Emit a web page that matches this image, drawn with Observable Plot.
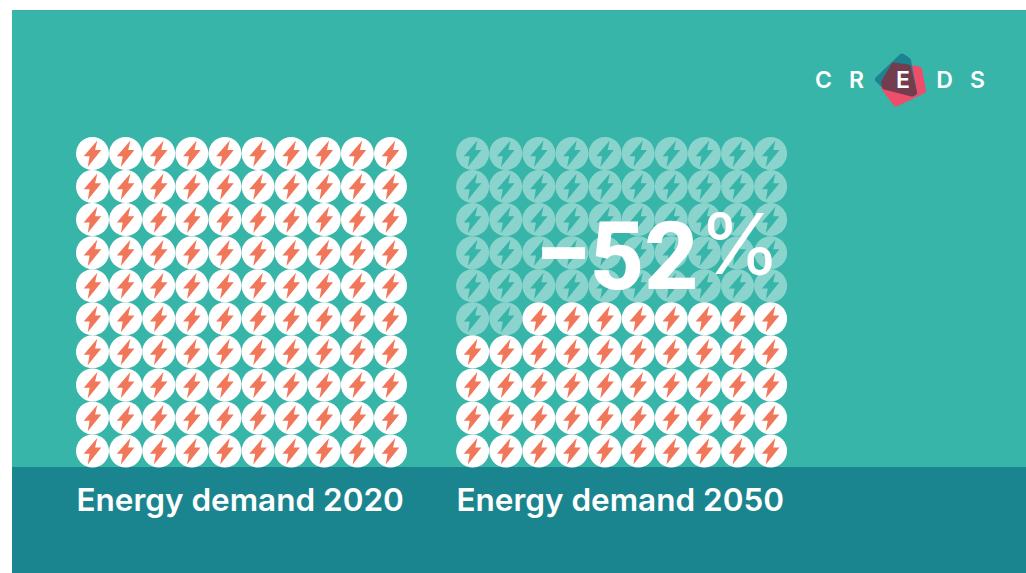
<!DOCTYPE html>
<html lang="en">
<head>
<meta charset="utf-8">
<title>Energy demand 2020 and 2050</title>
<script src="https://cdn.jsdelivr.net/npm/d3@7"></script>
<script src="https://cdn.jsdelivr.net/npm/@observablehq/plot@0.6"></script>
<style>
  html, body { margin: 0; padding: 0; background: #fff; overflow: hidden; }
  #panel { position: absolute; left: 12px; top: 10px; width: 1014px; height: 563px; background: #38b5a9; }
  #band { position: absolute; left: 12px; top: 467px; width: 1014px; height: 106px; background: #1b858f; }
  #chart { position: absolute; left: 0; top: 0; }
  #chart svg { display: block; background: transparent; }
  g[aria-label="reduction"] { filter: drop-shadow(2px 3px 2px rgba(20, 90, 90, 0.28)); }
</style>
</head>
<body>
<div id="panel"></div>
<div id="band"></div>
<div id="chart"></div>
<script>
// Index of energy demand: each icon stands for one percent of the 2020 level.
const years = [2020, 2050];
const demand = [100, 48];
const columns = d3.range(10);
const rows = d3.range(10);
const panelOffsets = [0, 11.48];
const logoLetters = ["C", "R", "E", "D", "S"];
const logoLetterOffsets = [823, 856, 902.5, 944, 977];

// One record per icon; icons fill from the bottom-right corner upwards.
const cells = years.flatMap((year, p) =>
  d3.cross(rows, columns).map(([row, col]) => ({
    year,
    col: col + panelOffsets[p],
    row,
    filled: (9 - row) * 10 + (9 - col) < demand[p]
  }))
);

const polygonSymbol = (points) => ({
  draw(context) {
    points.forEach(([x, y], i) => (i ? context.lineTo(x, y) : context.moveTo(x, y)));
    context.closePath();
  }
});

const bolt = polygonSymbol([[4.8, -13], [-8.8, 2.8], [-2.9, 2.8], [-4.8, 13.4], [8.8, -3.4], [2.6, -3.4]]);

// Logo shapes, relative to the logo's centre; round joins soften the corners.
const logoTeal = polygonSymbol([[-1, -24], [5, -20], [11, 12], [-18, 6], [-25, -1]]);
const logoPink = polygonSymbol([[-10, -15], [16, -11], [20, 10], [-7, 23], [-19, 7]]);
const logoOverlap = polygonSymbol([[-9, -15], [5, -13], [11, 12], [9, 13], [-18, 6], [-19, 2]]);

const logoMark = (symbol, color) =>
  Plot.dot([0], {
    frameAnchor: "top-left",
    dx: 902.5,
    dy: 80,
    symbol,
    r: 10,
    fill: color,
    stroke: color,
    strokeWidth: 6,
    strokeLinejoin: "round"
  });

const caption = (year, i) =>
  Plot.text([`Energy demand ${year}`], {
    frameAnchor: "top-left",
    dx: [76, 456][i],
    dy: 500,
    textAnchor: "start",
    lineAnchor: "middle",
    fill: "#fff",
    fontFamily: "Inter",
    fontWeight: 600,
    fontSize: 31.5
  });

const reduction = Math.round(((demand[1] - demand[0]) / demand[0]) * 100);

const chart = Plot.plot({
  width: 1026,
  height: 573,
  margin: 0,
  axis: null,
  x: { type: "linear", domain: [0, 9], range: [92, 390] },
  y: { type: "linear", domain: [0, 9], range: [153, 450.5] },
  marks: [
    Plot.dot(cells, {
      x: "col",
      y: "row",
      r: 16.5,
      fill: "#fff",
      fillOpacity: (d) => (d.filled ? 1 : 0.42)
    }),
    Plot.dot(cells.filter((d) => d.filled), {
      x: "col",
      y: "row",
      symbol: bolt,
      r: 10,
      fill: "#f1775a"
    }),
    Plot.dot(cells.filter((d) => !d.filled), {
      x: "col",
      y: "row",
      symbol: bolt,
      r: 10,
      fill: "#38b5a9"
    }),
    Plot.text(["\u2212"], {
      ariaLabel: "reduction",
      frameAnchor: "top-left",
      dx: 563,
      dy: 251,
      textAnchor: "middle",
      lineAnchor: "middle",
      fill: "#fff",
      fontFamily: "Inter",
      fontWeight: 800,
      fontSize: 84
    }),
    Plot.text([`${Math.abs(reduction)}`], {
      ariaLabel: "reduction",
      frameAnchor: "top-left",
      dx: 698,
      dy: 258,
      textAnchor: "end",
      lineAnchor: "middle",
      fill: "#fff",
      fontFamily: "Roboto",
      fontWeight: 800,
      fontSize: 94
    }),
    Plot.text(["%"], {
      ariaLabel: "reduction",
      frameAnchor: "top-left",
      dx: 698,
      dy: 247,
      textAnchor: "start",
      lineAnchor: "middle",
      fill: "#fff",
      fontFamily: "Inter",
      fontWeight: 400,
      fontSize: 84
    }),
    ...years.map(caption),
    logoMark(logoPink, "#ee4e6a"),
    logoMark(logoTeal, "#1b8490"),
    logoMark(logoOverlap, "#733d50"),
    ...logoLetters.map((letter, i) =>
      Plot.text([letter], {
        frameAnchor: "top-left",
        dx: logoLetterOffsets[i],
        dy: 80,
        textAnchor: "middle",
        lineAnchor: "middle",
        fill: "#fff",
        fontFamily: "Inter",
        fontWeight: 600,
        fontSize: 23
      })
    )
  ]
});

document.getElementById("chart").append(chart);
</script>
</body>
</html>
